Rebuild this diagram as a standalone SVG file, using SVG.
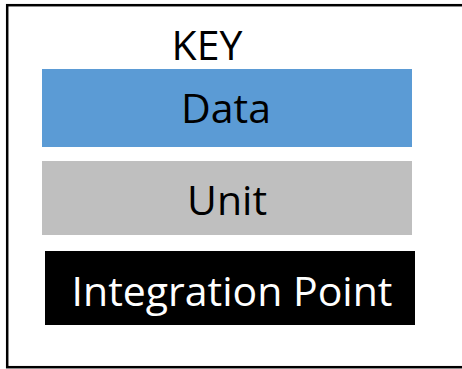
<svg xmlns="http://www.w3.org/2000/svg" width="462" height="369" viewBox="0 0 462 369">
  <style>
    .lbl { font-family: "Open Sans", "Noto Sans", "DejaVu Sans", sans-serif; font-size: 41px; text-anchor: middle; }
    .dark { fill: #000000; }
    .light { fill: #ffffff; }
  </style>
  <!-- frame around the legend (right side runs off the canvas) -->
  <rect x="7.2" y="5.2" width="470" height="362" fill="#ffffff" stroke="#000000" stroke-width="2.5"/>
  <text id="key-title" class="lbl dark" x="207" y="60">KEY</text>
  <g id="data">
    <rect x="42" y="69" width="370" height="78" fill="#5b9bd5"/>
    <text class="lbl dark" x="226" y="123">Data</text>
  </g>
  <g id="unit">
    <rect x="42" y="161" width="370" height="74" fill="#bfbfbf"/>
    <text class="lbl dark" x="227" y="215">Unit</text>
  </g>
  <g id="integration-point">
    <rect x="45" y="251" width="370" height="74" fill="#000000"/>
    <text class="lbl light" x="232" y="306">Integration Point</text>
  </g>
</svg>
